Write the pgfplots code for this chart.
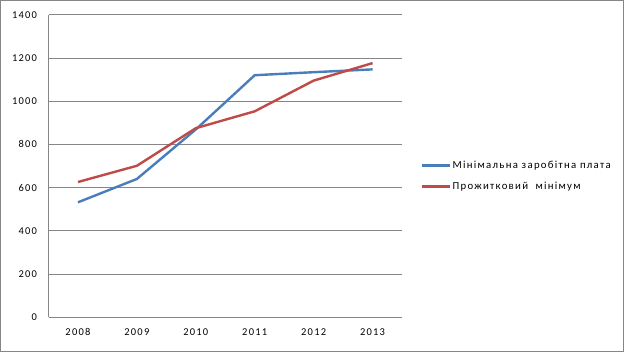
\documentclass[border=0pt]{standalone}
\usepackage{pgfplots}
\pgfplotsset{compat=1.18}
\usepackage{fontspec}
\setmainfont{Carlito}[LetterSpace=12]
\definecolor{sblue}{HTML}{4A7EBB}
\definecolor{sred}{HTML}{BE4B48}
\definecolor{gridc}{HTML}{868686}
\begin{document}
\begin{tikzpicture}[x=1bp,y=1bp]
\useasboundingbox (0,0) rectangle (624,352);
\draw[gridc,line width=0.8bp] (0.4,0.4) rectangle (623.6,351.6);
\begin{axis}[
  at={(48.5bp,34.7bp)}, anchor=south west,
  scale only axis, width=353.5bp, height=302.6bp,
  xmin=-0.5, xmax=5.5, ymin=0, ymax=1400,
  xtick={0,1,2,3,4,5},
  xticklabels={2008,2009,2010,2011,2012,2013},
  ytick={0,200,...,1400},
  axis x line*=bottom, axis y line*=left,
  axis line style={gridc, line width=0.8bp, -},
  ymajorgrids, grid style={gridc, line width=0.8bp},
  major tick length=0pt,
  tick label style={font=\fontsize{10.5}{12}\selectfont, black},
  /pgf/number format/assume math mode=true,
  /pgf/number format/1000 sep={},
  yticklabel style={xshift=-8bp},
  xticklabel style={yshift=-8bp},
  legend style={at={(1,0.467)}, anchor=west, xshift=19bp, draw=none, fill=none,
    font=\fontsize{10.8}{12}\selectfont, row sep=10bp, inner sep=0pt,
    nodes={inner sep=1pt}},
  legend cell align=left,
  legend image code/.code={\draw[#1,line width=2.4bp] (0bp,0bp) -- (28bp,0bp);},
]
\addplot[sblue, line width=2.4bp] coordinates {(0,532) (1,640) (2,869) (3,1120) (4,1134) (5,1147)};
\addlegendentry{Мінімальна заробітна плата}
\addplot[sred, line width=2.4bp] coordinates {(0,626) (1,701) (2,875) (3,953) (4,1095) (5,1176)};
\addlegendentry{Прожитковий\ \ мінімум}
\end{axis}
\end{tikzpicture}
\end{document}
